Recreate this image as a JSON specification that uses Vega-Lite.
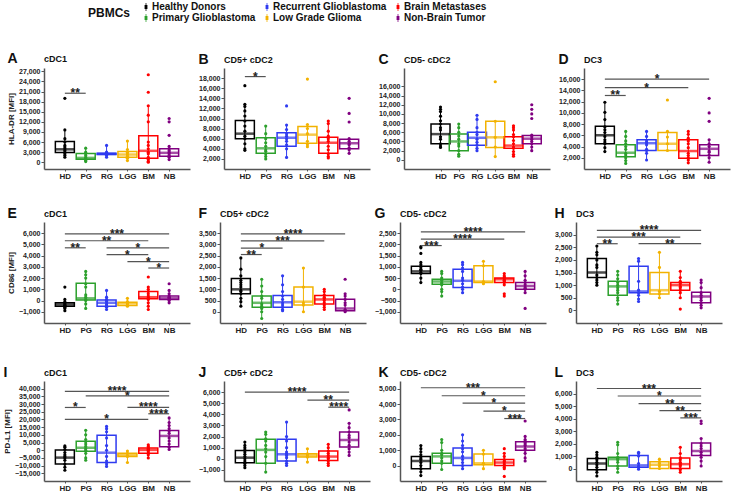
{
"$schema":"https://vega.github.io/schema/vega-lite/v6.json",
"padding":{"left":3,"right":3,"top":2,"bottom":0},
"data":{"values":[
{"p":"A","g":"HD","lo":1500,"q1":2900,"m":3850,"q3":6200,"hi":9600},
{"p":"A","g":"PG","lo":200,"q1":900,"m":1300,"q3":2600,"hi":4200},
{"p":"A","g":"RG","lo":1500,"q1":2300,"m":2500,"q3":2700,"hi":5000},
{"p":"A","g":"LGG","lo":500,"q1":1500,"m":2300,"q3":3200,"hi":6300},
{"p":"A","g":"BM","lo":0,"q1":1200,"m":3400,"q3":7900,"hi":16800},
{"p":"A","g":"NB","lo":800,"q1":1800,"m":2800,"q3":4000,"hi":4700},
{"p":"A","a":"HD","b":"PG","y":20500,"s":"**"},
{"p":"A","g":"HD","v":19000},{"p":"A","g":"HD","v":9600},{"p":"A","g":"HD","v":7000},{"p":"A","g":"HD","v":6000},{"p":"A","g":"HD","v":5000},{"p":"A","g":"HD","v":4500},{"p":"A","g":"HD","v":4000},{"p":"A","g":"HD","v":3500},{"p":"A","g":"HD","v":3000},{"p":"A","g":"HD","v":2500},{"p":"A","g":"HD","v":2000},{"p":"A","g":"HD","v":1500},
{"p":"A","g":"PG","v":4200},{"p":"A","g":"PG","v":3000},{"p":"A","g":"PG","v":2500},{"p":"A","g":"PG","v":2000},{"p":"A","g":"PG","v":1500},{"p":"A","g":"PG","v":1000},{"p":"A","g":"PG","v":800},{"p":"A","g":"PG","v":500},{"p":"A","g":"PG","v":200},
{"p":"A","g":"RG","v":5000},{"p":"A","g":"RG","v":3000},{"p":"A","g":"RG","v":2800},{"p":"A","g":"RG","v":2600},{"p":"A","g":"RG","v":2400},{"p":"A","g":"RG","v":2200},{"p":"A","g":"RG","v":2000},{"p":"A","g":"RG","v":1500},
{"p":"A","g":"LGG","v":6300},{"p":"A","g":"LGG","v":3800},{"p":"A","g":"LGG","v":3000},{"p":"A","g":"LGG","v":2500},{"p":"A","g":"LGG","v":2200},{"p":"A","g":"LGG","v":1800},{"p":"A","g":"LGG","v":1200},{"p":"A","g":"LGG","v":500},
{"p":"A","g":"BM","v":26000},{"p":"A","g":"BM","v":20800},{"p":"A","g":"BM","v":16800},{"p":"A","g":"BM","v":14000},{"p":"A","g":"BM","v":12000},{"p":"A","g":"BM","v":6000},{"p":"A","g":"BM","v":5000},{"p":"A","g":"BM","v":4000},{"p":"A","g":"BM","v":3000},{"p":"A","g":"BM","v":2500},{"p":"A","g":"BM","v":1500},{"p":"A","g":"BM","v":800},{"p":"A","g":"BM","v":300},{"p":"A","g":"BM","v":0},
{"p":"A","g":"NB","v":13000},{"p":"A","g":"NB","v":12000},{"p":"A","g":"NB","v":8000},{"p":"A","g":"NB","v":4700},{"p":"A","g":"NB","v":4000},{"p":"A","g":"NB","v":3500},{"p":"A","g":"NB","v":3000},{"p":"A","g":"NB","v":2500},{"p":"A","g":"NB","v":2000},{"p":"A","g":"NB","v":1500},{"p":"A","g":"NB","v":800},

{"p":"B","g":"HD","lo":3700,"q1":6000,"m":7000,"q3":9600,"hi":12800},
{"p":"B","g":"PG","lo":2000,"q1":3100,"m":4100,"q3":6200,"hi":8500},
{"p":"B","g":"RG","lo":2300,"q1":4500,"m":6200,"q3":7200,"hi":8700},
{"p":"B","g":"LGG","lo":4400,"q1":5100,"m":6800,"q3":8400,"hi":8800},
{"p":"B","g":"BM","lo":2200,"q1":3100,"m":5200,"q3":6300,"hi":9500},
{"p":"B","g":"NB","lo":3100,"q1":4000,"m":5100,"q3":5900,"hi":6000},
{"p":"B","a":"HD","b":"PG","y":18300,"s":"*"},
{"p":"B","g":"HD","v":16500},{"p":"B","g":"HD","v":12800},{"p":"B","g":"HD","v":12400},{"p":"B","g":"HD","v":11500},{"p":"B","g":"HD","v":10500},{"p":"B","g":"HD","v":9500},{"p":"B","g":"HD","v":8500},{"p":"B","g":"HD","v":7500},{"p":"B","g":"HD","v":6500},{"p":"B","g":"HD","v":6000},{"p":"B","g":"HD","v":5000},{"p":"B","g":"HD","v":4000},{"p":"B","g":"HD","v":3700},
{"p":"B","g":"PG","v":8500},{"p":"B","g":"PG","v":7000},{"p":"B","g":"PG","v":6000},{"p":"B","g":"PG","v":5200},{"p":"B","g":"PG","v":4500},{"p":"B","g":"PG","v":3800},{"p":"B","g":"PG","v":3500},{"p":"B","g":"PG","v":3000},{"p":"B","g":"PG","v":2500},{"p":"B","g":"PG","v":2000},
{"p":"B","g":"RG","v":12500},{"p":"B","g":"RG","v":8700},{"p":"B","g":"RG","v":7800},{"p":"B","g":"RG","v":7000},{"p":"B","g":"RG","v":6500},{"p":"B","g":"RG","v":6000},{"p":"B","g":"RG","v":5500},{"p":"B","g":"RG","v":4800},{"p":"B","g":"RG","v":4000},{"p":"B","g":"RG","v":2300},
{"p":"B","g":"LGG","v":17800},{"p":"B","g":"LGG","v":8800},{"p":"B","g":"LGG","v":8000},{"p":"B","g":"LGG","v":7000},{"p":"B","g":"LGG","v":5500},{"p":"B","g":"LGG","v":4800},{"p":"B","g":"LGG","v":4400},
{"p":"B","g":"BM","v":9500},{"p":"B","g":"BM","v":9000},{"p":"B","g":"BM","v":7500},{"p":"B","g":"BM","v":6500},{"p":"B","g":"BM","v":6000},{"p":"B","g":"BM","v":5500},{"p":"B","g":"BM","v":4500},{"p":"B","g":"BM","v":3800},{"p":"B","g":"BM","v":3000},{"p":"B","g":"BM","v":2500},{"p":"B","g":"BM","v":2200},
{"p":"B","g":"NB","v":14000},{"p":"B","g":"NB","v":11000},{"p":"B","g":"NB","v":9300},{"p":"B","g":"NB","v":6000},{"p":"B","g":"NB","v":5500},{"p":"B","g":"NB","v":5000},{"p":"B","g":"NB","v":4800},{"p":"B","g":"NB","v":4200},{"p":"B","g":"NB","v":3800},{"p":"B","g":"NB","v":3100},

{"p":"C","g":"HD","lo":2700,"q1":3500,"m":5600,"q3":7800,"hi":11500},
{"p":"C","g":"PG","lo":800,"q1":2000,"m":4000,"q3":5600,"hi":7800},
{"p":"C","g":"RG","lo":2000,"q1":3200,"m":4800,"q3":6000,"hi":9700},
{"p":"C","g":"LGG","lo":700,"q1":2700,"m":4900,"q3":8400,"hi":8400},
{"p":"C","g":"BM","lo":800,"q1":2500,"m":3100,"q3":5000,"hi":7400},
{"p":"C","g":"NB","lo":2000,"q1":3500,"m":4600,"q3":5300,"hi":5400},
{"p":"C","g":"HD","v":11500},{"p":"C","g":"HD","v":11000},{"p":"C","g":"HD","v":10500},{"p":"C","g":"HD","v":9500},{"p":"C","g":"HD","v":8500},{"p":"C","g":"HD","v":7800},{"p":"C","g":"HD","v":7000},{"p":"C","g":"HD","v":6500},{"p":"C","g":"HD","v":5000},{"p":"C","g":"HD","v":4500},{"p":"C","g":"HD","v":3500},{"p":"C","g":"HD","v":3000},{"p":"C","g":"HD","v":2700},
{"p":"C","g":"PG","v":7800},{"p":"C","g":"PG","v":7000},{"p":"C","g":"PG","v":6000},{"p":"C","g":"PG","v":5200},{"p":"C","g":"PG","v":4500},{"p":"C","g":"PG","v":3500},{"p":"C","g":"PG","v":3000},{"p":"C","g":"PG","v":2000},{"p":"C","g":"PG","v":1200},{"p":"C","g":"PG","v":800},
{"p":"C","g":"RG","v":9700},{"p":"C","g":"RG","v":8800},{"p":"C","g":"RG","v":7000},{"p":"C","g":"RG","v":6000},{"p":"C","g":"RG","v":5500},{"p":"C","g":"RG","v":4500},{"p":"C","g":"RG","v":3800},{"p":"C","g":"RG","v":3200},{"p":"C","g":"RG","v":2500},{"p":"C","g":"RG","v":2000},
{"p":"C","g":"LGG","v":17000},{"p":"C","g":"LGG","v":8400},{"p":"C","g":"LGG","v":4900},{"p":"C","g":"LGG","v":2800},{"p":"C","g":"LGG","v":700},
{"p":"C","g":"BM","v":7400},{"p":"C","g":"BM","v":7000},{"p":"C","g":"BM","v":6500},{"p":"C","g":"BM","v":5500},{"p":"C","g":"BM","v":5000},{"p":"C","g":"BM","v":4200},{"p":"C","g":"BM","v":3500},{"p":"C","g":"BM","v":2800},{"p":"C","g":"BM","v":2500},{"p":"C","g":"BM","v":1800},{"p":"C","g":"BM","v":1200},{"p":"C","g":"BM","v":800},
{"p":"C","g":"NB","v":12000},{"p":"C","g":"NB","v":11000},{"p":"C","g":"NB","v":10000},{"p":"C","g":"NB","v":9000},{"p":"C","g":"NB","v":5400},{"p":"C","g":"NB","v":5000},{"p":"C","g":"NB","v":4500},{"p":"C","g":"NB","v":4000},{"p":"C","g":"NB","v":3500},{"p":"C","g":"NB","v":2800},{"p":"C","g":"NB","v":2000},

{"p":"D","g":"HD","lo":3100,"q1":4500,"m":6000,"q3":7600,"hi":11900},
{"p":"D","g":"PG","lo":1000,"q1":2200,"m":2900,"q3":4300,"hi":6700},
{"p":"D","g":"RG","lo":1600,"q1":3300,"m":4600,"q3":5200,"hi":6700},
{"p":"D","g":"LGG","lo":3300,"q1":3300,"m":4500,"q3":6500,"hi":6700},
{"p":"D","g":"BM","lo":1100,"q1":1900,"m":3200,"q3":5200,"hi":6700},
{"p":"D","g":"NB","lo":1200,"q1":2400,"m":3600,"q3":4300,"hi":5200},
{"p":"D","a":"HD","b":"NB","y":16000,"s":"*"},
{"p":"D","a":"HD","b":"BM","y":14500,"s":"*"},
{"p":"D","a":"HD","b":"PG","y":13100,"s":"**"},
{"p":"D","g":"HD","v":11900},{"p":"D","g":"HD","v":10100},{"p":"D","g":"HD","v":8800},{"p":"D","g":"HD","v":7500},{"p":"D","g":"HD","v":7000},{"p":"D","g":"HD","v":6500},{"p":"D","g":"HD","v":5800},{"p":"D","g":"HD","v":5200},{"p":"D","g":"HD","v":4800},{"p":"D","g":"HD","v":4500},{"p":"D","g":"HD","v":3800},{"p":"D","g":"HD","v":3100},
{"p":"D","g":"PG","v":6700},{"p":"D","g":"PG","v":5800},{"p":"D","g":"PG","v":5000},{"p":"D","g":"PG","v":4500},{"p":"D","g":"PG","v":4000},{"p":"D","g":"PG","v":3500},{"p":"D","g":"PG","v":2800},{"p":"D","g":"PG","v":2500},{"p":"D","g":"PG","v":2000},{"p":"D","g":"PG","v":1500},{"p":"D","g":"PG","v":1000},
{"p":"D","g":"RG","v":6700},{"p":"D","g":"RG","v":5800},{"p":"D","g":"RG","v":5000},{"p":"D","g":"RG","v":4700},{"p":"D","g":"RG","v":4300},{"p":"D","g":"RG","v":3500},{"p":"D","g":"RG","v":3300},{"p":"D","g":"RG","v":2800},{"p":"D","g":"RG","v":1600},
{"p":"D","g":"LGG","v":12300},{"p":"D","g":"LGG","v":6700},{"p":"D","g":"LGG","v":5700},{"p":"D","g":"LGG","v":4500},{"p":"D","g":"LGG","v":3300},
{"p":"D","g":"BM","v":6700},{"p":"D","g":"BM","v":6200},{"p":"D","g":"BM","v":5500},{"p":"D","g":"BM","v":5000},{"p":"D","g":"BM","v":4500},{"p":"D","g":"BM","v":3800},{"p":"D","g":"BM","v":2800},{"p":"D","g":"BM","v":2400},{"p":"D","g":"BM","v":2000},{"p":"D","g":"BM","v":1600},{"p":"D","g":"BM","v":1100},
{"p":"D","g":"NB","v":12600},{"p":"D","g":"NB","v":10000},{"p":"D","g":"NB","v":8500},{"p":"D","g":"NB","v":5200},{"p":"D","g":"NB","v":4500},{"p":"D","g":"NB","v":4000},{"p":"D","g":"NB","v":3200},{"p":"D","g":"NB","v":3000},{"p":"D","g":"NB","v":2500},{"p":"D","g":"NB","v":2000},{"p":"D","g":"NB","v":1200},

{"p":"E","g":"HD","lo":-900,"q1":-500,"m":-350,"q3":-200,"hi":100},
{"p":"E","g":"PG","lo":-700,"q1":50,"m":200,"q3":1550,"hi":2600},
{"p":"E","g":"RG","lo":-800,"q1":-500,"m":-200,"q3":50,"hi":900},
{"p":"E","g":"LGG","lo":-500,"q1":-450,"m":-250,"q3":-150,"hi":200},
{"p":"E","g":"BM","lo":-800,"q1":150,"m":300,"q3":800,"hi":1200},
{"p":"E","g":"NB","lo":-200,"q1":100,"m":200,"q3":400,"hi":900},
{"p":"E","a":"HD","b":"NB","y":5950,"s":"***"},
{"p":"E","a":"HD","b":"BM","y":5330,"s":"**"},
{"p":"E","a":"HD","b":"PG","y":4700,"s":"**"},
{"p":"E","a":"RG","b":"NB","y":4700,"s":"*"},
{"p":"E","a":"RG","b":"BM","y":4090,"s":"*"},
{"p":"E","a":"LGG","b":"NB","y":3470,"s":"*"},
{"p":"E","a":"BM","b":"NB","y":2900,"s":"*"},
{"p":"E","g":"HD","v":1200},{"p":"E","g":"HD","v":100},{"p":"E","g":"HD","v":-100},{"p":"E","g":"HD","v":-200},{"p":"E","g":"HD","v":-300},{"p":"E","g":"HD","v":-400},{"p":"E","g":"HD","v":-450},{"p":"E","g":"HD","v":-500},{"p":"E","g":"HD","v":-600},{"p":"E","g":"HD","v":-700},{"p":"E","g":"HD","v":-900},
{"p":"E","g":"PG","v":2600},{"p":"E","g":"PG","v":2300},{"p":"E","g":"PG","v":2000},{"p":"E","g":"PG","v":1500},{"p":"E","g":"PG","v":1200},{"p":"E","g":"PG","v":500},{"p":"E","g":"PG","v":300},{"p":"E","g":"PG","v":100},{"p":"E","g":"PG","v":0},{"p":"E","g":"PG","v":-300},{"p":"E","g":"PG","v":-700},
{"p":"E","g":"RG","v":900},{"p":"E","g":"RG","v":300},{"p":"E","g":"RG","v":100},{"p":"E","g":"RG","v":0},{"p":"E","g":"RG","v":-100},{"p":"E","g":"RG","v":-300},{"p":"E","g":"RG","v":-400},{"p":"E","g":"RG","v":-500},{"p":"E","g":"RG","v":-600},{"p":"E","g":"RG","v":-800},
{"p":"E","g":"LGG","v":200},{"p":"E","g":"LGG","v":-100},{"p":"E","g":"LGG","v":-200},{"p":"E","g":"LGG","v":-300},{"p":"E","g":"LGG","v":-400},{"p":"E","g":"LGG","v":-500},
{"p":"E","g":"BM","v":2100},{"p":"E","g":"BM","v":1200},{"p":"E","g":"BM","v":1000},{"p":"E","g":"BM","v":800},{"p":"E","g":"BM","v":600},{"p":"E","g":"BM","v":400},{"p":"E","g":"BM","v":250},{"p":"E","g":"BM","v":200},{"p":"E","g":"BM","v":100},{"p":"E","g":"BM","v":-200},{"p":"E","g":"BM","v":-500},{"p":"E","g":"BM","v":-800},
{"p":"E","g":"NB","v":1500},{"p":"E","g":"NB","v":900},{"p":"E","g":"NB","v":600},{"p":"E","g":"NB","v":400},{"p":"E","g":"NB","v":300},{"p":"E","g":"NB","v":250},{"p":"E","g":"NB","v":150},{"p":"E","g":"NB","v":100},{"p":"E","g":"NB","v":0},{"p":"E","g":"NB","v":-200},

{"p":"F","g":"HD","lo":250,"q1":800,"m":1000,"q3":1480,"hi":2400},
{"p":"F","g":"PG","lo":-300,"q1":200,"m":400,"q3":700,"hi":1450},
{"p":"F","g":"RG","lo":50,"q1":200,"m":420,"q3":720,"hi":1600},
{"p":"F","g":"LGG","lo":0,"q1":300,"m":450,"q3":1100,"hi":1950},
{"p":"F","g":"BM","lo":100,"q1":350,"m":550,"q3":720,"hi":1000},
{"p":"F","g":"NB","lo":0,"q1":50,"m":150,"q3":560,"hi":800},
{"p":"F","a":"HD","b":"NB","y":3470,"s":"****"},
{"p":"F","a":"HD","b":"BM","y":3160,"s":"***"},
{"p":"F","a":"HD","b":"RG","y":2840,"s":"*"},
{"p":"F","a":"HD","b":"PG","y":2550,"s":"**"},
{"p":"F","g":"HD","v":2400},{"p":"F","g":"HD","v":1900},{"p":"F","g":"HD","v":1600},{"p":"F","g":"HD","v":1400},{"p":"F","g":"HD","v":1300},{"p":"F","g":"HD","v":1200},{"p":"F","g":"HD","v":1100},{"p":"F","g":"HD","v":950},{"p":"F","g":"HD","v":900},{"p":"F","g":"HD","v":800},{"p":"F","g":"HD","v":600},{"p":"F","g":"HD","v":450},{"p":"F","g":"HD","v":250},
{"p":"F","g":"PG","v":1450},{"p":"F","g":"PG","v":1150},{"p":"F","g":"PG","v":900},{"p":"F","g":"PG","v":700},{"p":"F","g":"PG","v":600},{"p":"F","g":"PG","v":350},{"p":"F","g":"PG","v":250},{"p":"F","g":"PG","v":150},{"p":"F","g":"PG","v":0},{"p":"F","g":"PG","v":-300},
{"p":"F","g":"RG","v":1600},{"p":"F","g":"RG","v":1200},{"p":"F","g":"RG","v":900},{"p":"F","g":"RG","v":700},{"p":"F","g":"RG","v":550},{"p":"F","g":"RG","v":400},{"p":"F","g":"RG","v":300},{"p":"F","g":"RG","v":200},{"p":"F","g":"RG","v":100},{"p":"F","g":"RG","v":50},
{"p":"F","g":"LGG","v":1950},{"p":"F","g":"LGG","v":1100},{"p":"F","g":"LGG","v":400},{"p":"F","g":"LGG","v":300},{"p":"F","g":"LGG","v":0},
{"p":"F","g":"BM","v":1000},{"p":"F","g":"BM","v":900},{"p":"F","g":"BM","v":750},{"p":"F","g":"BM","v":650},{"p":"F","g":"BM","v":600},{"p":"F","g":"BM","v":500},{"p":"F","g":"BM","v":400},{"p":"F","g":"BM","v":300},{"p":"F","g":"BM","v":200},{"p":"F","g":"BM","v":100},
{"p":"F","g":"NB","v":1450},{"p":"F","g":"NB","v":800},{"p":"F","g":"NB","v":700},{"p":"F","g":"NB","v":550},{"p":"F","g":"NB","v":400},{"p":"F","g":"NB","v":300},{"p":"F","g":"NB","v":100},{"p":"F","g":"NB","v":50},{"p":"F","g":"NB","v":0},

{"p":"G","g":"HD","lo":300,"q1":700,"m":800,"q3":1030,"hi":1200},
{"p":"G","g":"PG","lo":-300,"q1":230,"m":350,"q3":450,"hi":800},
{"p":"G","g":"RG","lo":-150,"q1":80,"m":380,"q3":900,"hi":1200},
{"p":"G","g":"LGG","lo":250,"q1":300,"m":350,"q3":1050,"hi":1250},
{"p":"G","g":"BM","lo":200,"q1":300,"m":450,"q3":500,"hi":700},
{"p":"G","g":"NB","lo":-150,"q1":0,"m":150,"q3":300,"hi":800},
{"p":"G","a":"HD","b":"NB","y":2560,"s":"****"},
{"p":"G","a":"HD","b":"BM","y":2240,"s":"****"},
{"p":"G","a":"HD","b":"PG","y":1950,"s":"***"},
{"p":"G","g":"HD","v":1900},{"p":"G","g":"HD","v":1850},{"p":"G","g":"HD","v":1600},{"p":"G","g":"HD","v":1200},{"p":"G","g":"HD","v":1100},{"p":"G","g":"HD","v":1000},{"p":"G","g":"HD","v":900},{"p":"G","g":"HD","v":850},{"p":"G","g":"HD","v":750},{"p":"G","g":"HD","v":700},{"p":"G","g":"HD","v":500},{"p":"G","g":"HD","v":300},
{"p":"G","g":"PG","v":800},{"p":"G","g":"PG","v":700},{"p":"G","g":"PG","v":500},{"p":"G","g":"PG","v":450},{"p":"G","g":"PG","v":400},{"p":"G","g":"PG","v":300},{"p":"G","g":"PG","v":250},{"p":"G","g":"PG","v":200},{"p":"G","g":"PG","v":0},{"p":"G","g":"PG","v":-100},{"p":"G","g":"PG","v":-300},
{"p":"G","g":"RG","v":1200},{"p":"G","g":"RG","v":1100},{"p":"G","g":"RG","v":950},{"p":"G","g":"RG","v":800},{"p":"G","g":"RG","v":500},{"p":"G","g":"RG","v":400},{"p":"G","g":"RG","v":250},{"p":"G","g":"RG","v":100},{"p":"G","g":"RG","v":0},{"p":"G","g":"RG","v":-150},
{"p":"G","g":"LGG","v":1250},{"p":"G","g":"LGG","v":1050},{"p":"G","g":"LGG","v":350},{"p":"G","g":"LGG","v":300},{"p":"G","g":"LGG","v":250},
{"p":"G","g":"BM","v":700},{"p":"G","g":"BM","v":600},{"p":"G","g":"BM","v":550},{"p":"G","g":"BM","v":500},{"p":"G","g":"BM","v":420},{"p":"G","g":"BM","v":400},{"p":"G","g":"BM","v":350},{"p":"G","g":"BM","v":300},{"p":"G","g":"BM","v":200},{"p":"G","g":"BM","v":-200},{"p":"G","g":"BM","v":-300},
{"p":"G","g":"NB","v":800},{"p":"G","g":"NB","v":600},{"p":"G","g":"NB","v":400},{"p":"G","g":"NB","v":300},{"p":"G","g":"NB","v":200},{"p":"G","g":"NB","v":100},{"p":"G","g":"NB","v":50},{"p":"G","g":"NB","v":0},{"p":"G","g":"NB","v":-150},{"p":"G","g":"NB","v":-850},

{"p":"H","g":"HD","lo":1000,"q1":1300,"m":1500,"q3":2050,"hi":2550},
{"p":"H","g":"PG","lo":250,"q1":600,"m":950,"q3":1150,"hi":1550},
{"p":"H","g":"RG","lo":350,"q1":700,"m":750,"q3":1750,"hi":2050},
{"p":"H","g":"LGG","lo":500,"q1":650,"m":800,"q3":1500,"hi":2300},
{"p":"H","g":"BM","lo":500,"q1":800,"m":1000,"q3":1100,"hi":1550},
{"p":"H","g":"NB","lo":100,"q1":300,"m":550,"q3":720,"hi":1200},
{"p":"H","a":"HD","b":"NB","y":3170,"s":"****"},
{"p":"H","a":"HD","b":"BM","y":2900,"s":"***"},
{"p":"H","a":"HD","b":"PG","y":2640,"s":"**"},
{"p":"H","a":"RG","b":"NB","y":2640,"s":"**"},
{"p":"H","g":"HD","v":2550},{"p":"H","g":"HD","v":2300},{"p":"H","g":"HD","v":2200},{"p":"H","g":"HD","v":2000},{"p":"H","g":"HD","v":1800},{"p":"H","g":"HD","v":1700},{"p":"H","g":"HD","v":1400},{"p":"H","g":"HD","v":1300},{"p":"H","g":"HD","v":1200},{"p":"H","g":"HD","v":1100},{"p":"H","g":"HD","v":1000},
{"p":"H","g":"PG","v":1550},{"p":"H","g":"PG","v":1400},{"p":"H","g":"PG","v":1250},{"p":"H","g":"PG","v":1100},{"p":"H","g":"PG","v":1000},{"p":"H","g":"PG","v":900},{"p":"H","g":"PG","v":800},{"p":"H","g":"PG","v":700},{"p":"H","g":"PG","v":500},{"p":"H","g":"PG","v":400},{"p":"H","g":"PG","v":250},
{"p":"H","g":"RG","v":2050},{"p":"H","g":"RG","v":1950},{"p":"H","g":"RG","v":1150},{"p":"H","g":"RG","v":800},{"p":"H","g":"RG","v":700},{"p":"H","g":"RG","v":600},{"p":"H","g":"RG","v":450},{"p":"H","g":"RG","v":350},
{"p":"H","g":"LGG","v":2300},{"p":"H","g":"LGG","v":1700},{"p":"H","g":"LGG","v":750},{"p":"H","g":"LGG","v":650},{"p":"H","g":"LGG","v":500},
{"p":"H","g":"BM","v":1550},{"p":"H","g":"BM","v":1300},{"p":"H","g":"BM","v":1150},{"p":"H","g":"BM","v":1100},{"p":"H","g":"BM","v":1050},{"p":"H","g":"BM","v":950},{"p":"H","g":"BM","v":900},{"p":"H","g":"BM","v":800},{"p":"H","g":"BM","v":700},{"p":"H","g":"BM","v":500},{"p":"H","g":"BM","v":50},
{"p":"H","g":"NB","v":1200},{"p":"H","g":"NB","v":1100},{"p":"H","g":"NB","v":900},{"p":"H","g":"NB","v":700},{"p":"H","g":"NB","v":600},{"p":"H","g":"NB","v":500},{"p":"H","g":"NB","v":400},{"p":"H","g":"NB","v":300},{"p":"H","g":"NB","v":200},{"p":"H","g":"NB","v":100},

{"p":"I","g":"HD","lo":-13000,"q1":-9000,"m":-4800,"q3":200,"hi":2800},
{"p":"I","g":"PG","lo":-6500,"q1":-600,"m":1600,"q3":5900,"hi":13000},
{"p":"I","g":"RG","lo":-10500,"q1":-8000,"m":-1600,"q3":9800,"hi":15500},
{"p":"I","g":"LGG","lo":-8000,"q1":-4000,"m":-3000,"q3":-2000,"hi":-500},
{"p":"I","g":"BM","lo":-5000,"q1":-2000,"m":200,"q3":1500,"hi":3500},
{"p":"I","g":"NB","lo":500,"q1":2200,"m":9300,"q3":12800,"hi":21000},
{"p":"I","a":"HD","b":"NB","y":38300,"s":"****"},
{"p":"I","a":"PG","b":"NB","y":35300,"s":"*"},
{"p":"I","a":"HD","b":"PG","y":27800,"s":"*"},
{"p":"I","a":"LGG","b":"NB","y":27800,"s":"****"},
{"p":"I","a":"BM","b":"NB","y":23700,"s":"****"},
{"p":"I","a":"HD","b":"BM","y":20000,"s":"*"},
{"p":"I","g":"HD","v":2800},{"p":"I","g":"HD","v":2000},{"p":"I","g":"HD","v":500},{"p":"I","g":"HD","v":-1500},{"p":"I","g":"HD","v":-3000},{"p":"I","g":"HD","v":-4000},{"p":"I","g":"HD","v":-5000},{"p":"I","g":"HD","v":-6500},{"p":"I","g":"HD","v":-9000},{"p":"I","g":"HD","v":-11000},{"p":"I","g":"HD","v":-13000},
{"p":"I","g":"PG","v":13000},{"p":"I","g":"PG","v":10000},{"p":"I","g":"PG","v":7000},{"p":"I","g":"PG","v":5500},{"p":"I","g":"PG","v":4000},{"p":"I","g":"PG","v":2500},{"p":"I","g":"PG","v":1000},{"p":"I","g":"PG","v":0},{"p":"I","g":"PG","v":-2000},{"p":"I","g":"PG","v":-5000},{"p":"I","g":"PG","v":-6500},
{"p":"I","g":"RG","v":15500},{"p":"I","g":"RG","v":14000},{"p":"I","g":"RG","v":12000},{"p":"I","g":"RG","v":8000},{"p":"I","g":"RG","v":3000},{"p":"I","g":"RG","v":0},{"p":"I","g":"RG","v":-4000},{"p":"I","g":"RG","v":-7000},{"p":"I","g":"RG","v":-9000},{"p":"I","g":"RG","v":-10500},
{"p":"I","g":"LGG","v":-500},{"p":"I","g":"LGG","v":-2000},{"p":"I","g":"LGG","v":-3500},{"p":"I","g":"LGG","v":-4000},{"p":"I","g":"LGG","v":-8000},
{"p":"I","g":"BM","v":3500},{"p":"I","g":"BM","v":2500},{"p":"I","g":"BM","v":1500},{"p":"I","g":"BM","v":1000},{"p":"I","g":"BM","v":500},{"p":"I","g":"BM","v":0},{"p":"I","g":"BM","v":-1000},{"p":"I","g":"BM","v":-2000},{"p":"I","g":"BM","v":-3000},{"p":"I","g":"BM","v":-5000},
{"p":"I","g":"NB","v":21000},{"p":"I","g":"NB","v":18000},{"p":"I","g":"NB","v":16000},{"p":"I","g":"NB","v":14000},{"p":"I","g":"NB","v":12500},{"p":"I","g":"NB","v":11000},{"p":"I","g":"NB","v":8000},{"p":"I","g":"NB","v":6000},{"p":"I","g":"NB","v":4000},{"p":"I","g":"NB","v":2000},{"p":"I","g":"NB","v":500},

{"p":"J","g":"HD","lo":-800,"q1":-360,"m":100,"q3":740,"hi":1500},
{"p":"J","g":"PG","lo":-1200,"q1":-400,"m":800,"q3":1750,"hi":2400},
{"p":"J","g":"RG","lo":-600,"q1":-200,"m":400,"q3":1750,"hi":3300},
{"p":"J","g":"LGG","lo":-300,"q1":150,"m":300,"q3":450,"hi":900},
{"p":"J","g":"BM","lo":-600,"q1":-150,"m":200,"q3":700,"hi":1300},
{"p":"J","g":"NB","lo":300,"q1":1050,"m":1700,"q3":2400,"hi":3200},
{"p":"J","a":"HD","b":"NB","y":6000,"s":"****"},
{"p":"J","a":"LGG","b":"NB","y":5280,"s":"**"},
{"p":"J","a":"BM","b":"NB","y":4640,"s":"****"},
{"p":"J","g":"HD","v":1500},{"p":"J","g":"HD","v":1200},{"p":"J","g":"HD","v":1000},{"p":"J","g":"HD","v":800},{"p":"J","g":"HD","v":600},{"p":"J","g":"HD","v":400},{"p":"J","g":"HD","v":200},{"p":"J","g":"HD","v":0},{"p":"J","g":"HD","v":-200},{"p":"J","g":"HD","v":-400},{"p":"J","g":"HD","v":-600},{"p":"J","g":"HD","v":-800},
{"p":"J","g":"PG","v":2400},{"p":"J","g":"PG","v":2200},{"p":"J","g":"PG","v":1800},{"p":"J","g":"PG","v":1600},{"p":"J","g":"PG","v":1200},{"p":"J","g":"PG","v":900},{"p":"J","g":"PG","v":600},{"p":"J","g":"PG","v":200},{"p":"J","g":"PG","v":-400},{"p":"J","g":"PG","v":-1200},
{"p":"J","g":"RG","v":3300},{"p":"J","g":"RG","v":2000},{"p":"J","g":"RG","v":1600},{"p":"J","g":"RG","v":1000},{"p":"J","g":"RG","v":600},{"p":"J","g":"RG","v":450},{"p":"J","g":"RG","v":300},{"p":"J","g":"RG","v":100},{"p":"J","g":"RG","v":-200},{"p":"J","g":"RG","v":-400},{"p":"J","g":"RG","v":-600},
{"p":"J","g":"LGG","v":900},{"p":"J","g":"LGG","v":450},{"p":"J","g":"LGG","v":350},{"p":"J","g":"LGG","v":200},{"p":"J","g":"LGG","v":150},{"p":"J","g":"LGG","v":-300},
{"p":"J","g":"BM","v":1300},{"p":"J","g":"BM","v":1000},{"p":"J","g":"BM","v":700},{"p":"J","g":"BM","v":500},{"p":"J","g":"BM","v":300},{"p":"J","g":"BM","v":100},{"p":"J","g":"BM","v":0},{"p":"J","g":"BM","v":-200},{"p":"J","g":"BM","v":-400},{"p":"J","g":"BM","v":-600},
{"p":"J","g":"NB","v":4400},{"p":"J","g":"NB","v":3200},{"p":"J","g":"NB","v":2800},{"p":"J","g":"NB","v":2400},{"p":"J","g":"NB","v":2100},{"p":"J","g":"NB","v":1900},{"p":"J","g":"NB","v":1500},{"p":"J","g":"NB","v":1200},{"p":"J","g":"NB","v":900},{"p":"J","g":"NB","v":600},{"p":"J","g":"NB","v":300},

{"p":"K","g":"HD","lo":-650,"q1":-200,"m":300,"q3":600,"hi":1300},
{"p":"K","g":"PG","lo":-250,"q1":150,"m":600,"q3":800,"hi":1700},
{"p":"K","g":"RG","lo":-200,"q1":0,"m":500,"q3":1150,"hi":2000},
{"p":"K","g":"LGG","lo":-200,"q1":50,"m":150,"q3":750,"hi":1000},
{"p":"K","g":"BM","lo":-200,"q1":0,"m":200,"q3":400,"hi":800},
{"p":"K","g":"NB","lo":300,"q1":1000,"m":1250,"q3":1550,"hi":1900},
{"p":"K","a":"HD","b":"NB","y":5060,"s":"***"},
{"p":"K","a":"PG","b":"NB","y":4540,"s":"*"},
{"p":"K","a":"RG","b":"NB","y":4060,"s":"*"},
{"p":"K","a":"LGG","b":"NB","y":3540,"s":"*"},
{"p":"K","a":"BM","b":"NB","y":3060,"s":"***"},
{"p":"K","g":"HD","v":1300},{"p":"K","g":"HD","v":1100},{"p":"K","g":"HD","v":900},{"p":"K","g":"HD","v":700},{"p":"K","g":"HD","v":500},{"p":"K","g":"HD","v":400},{"p":"K","g":"HD","v":200},{"p":"K","g":"HD","v":0},{"p":"K","g":"HD","v":-200},{"p":"K","g":"HD","v":-400},{"p":"K","g":"HD","v":-650},
{"p":"K","g":"PG","v":1700},{"p":"K","g":"PG","v":1500},{"p":"K","g":"PG","v":1000},{"p":"K","g":"PG","v":800},{"p":"K","g":"PG","v":700},{"p":"K","g":"PG","v":500},{"p":"K","g":"PG","v":300},{"p":"K","g":"PG","v":150},{"p":"K","g":"PG","v":-250},
{"p":"K","g":"RG","v":2000},{"p":"K","g":"RG","v":1600},{"p":"K","g":"RG","v":1300},{"p":"K","g":"RG","v":1100},{"p":"K","g":"RG","v":900},{"p":"K","g":"RG","v":600},{"p":"K","g":"RG","v":400},{"p":"K","g":"RG","v":200},{"p":"K","g":"RG","v":0},{"p":"K","g":"RG","v":-200},
{"p":"K","g":"LGG","v":1000},{"p":"K","g":"LGG","v":750},{"p":"K","g":"LGG","v":150},{"p":"K","g":"LGG","v":100},{"p":"K","g":"LGG","v":-200},
{"p":"K","g":"BM","v":1100},{"p":"K","g":"BM","v":800},{"p":"K","g":"BM","v":600},{"p":"K","g":"BM","v":400},{"p":"K","g":"BM","v":300},{"p":"K","g":"BM","v":250},{"p":"K","g":"BM","v":100},{"p":"K","g":"BM","v":0},{"p":"K","g":"BM","v":-100},{"p":"K","g":"BM","v":-200},{"p":"K","g":"BM","v":-700},
{"p":"K","g":"NB","v":2900},{"p":"K","g":"NB","v":1900},{"p":"K","g":"NB","v":1700},{"p":"K","g":"NB","v":1600},{"p":"K","g":"NB","v":1500},{"p":"K","g":"NB","v":1400},{"p":"K","g":"NB","v":1300},{"p":"K","g":"NB","v":1100},{"p":"K","g":"NB","v":1000},{"p":"K","g":"NB","v":800},{"p":"K","g":"NB","v":500},{"p":"K","g":"NB","v":300},

{"p":"L","g":"HD","lo":-600,"q1":-100,"m":400,"q3":800,"hi":1300},
{"p":"L","g":"PG","lo":-300,"q1":200,"m":750,"q3":900,"hi":2100},
{"p":"L","g":"RG","lo":-50,"q1":100,"m":250,"q3":1050,"hi":1300},
{"p":"L","g":"LGG","lo":-50,"q1":0,"m":300,"q3":550,"hi":750},
{"p":"L","g":"BM","lo":-300,"q1":0,"m":350,"q3":850,"hi":1700},
{"p":"L","g":"NB","lo":200,"q1":1050,"m":1400,"q3":2050,"hi":2400},
{"p":"L","a":"HD","b":"NB","y":6400,"s":"***"},
{"p":"L","a":"PG","b":"NB","y":5800,"s":"*"},
{"p":"L","a":"RG","b":"NB","y":5190,"s":"**"},
{"p":"L","a":"LGG","b":"NB","y":4630,"s":"**"},
{"p":"L","a":"BM","b":"NB","y":4050,"s":"***"},
{"p":"L","g":"HD","v":1300},{"p":"L","g":"HD","v":1100},{"p":"L","g":"HD","v":900},{"p":"L","g":"HD","v":700},{"p":"L","g":"HD","v":500},{"p":"L","g":"HD","v":300},{"p":"L","g":"HD","v":100},{"p":"L","g":"HD","v":-100},{"p":"L","g":"HD","v":-300},{"p":"L","g":"HD","v":-600},
{"p":"L","g":"PG","v":2100},{"p":"L","g":"PG","v":1900},{"p":"L","g":"PG","v":1200},{"p":"L","g":"PG","v":900},{"p":"L","g":"PG","v":800},{"p":"L","g":"PG","v":700},{"p":"L","g":"PG","v":500},{"p":"L","g":"PG","v":200},{"p":"L","g":"PG","v":0},{"p":"L","g":"PG","v":-300},
{"p":"L","g":"RG","v":1300},{"p":"L","g":"RG","v":1200},{"p":"L","g":"RG","v":1000},{"p":"L","g":"RG","v":400},{"p":"L","g":"RG","v":200},{"p":"L","g":"RG","v":100},{"p":"L","g":"RG","v":-50},
{"p":"L","g":"LGG","v":750},{"p":"L","g":"LGG","v":550},{"p":"L","g":"LGG","v":400},{"p":"L","g":"LGG","v":200},{"p":"L","g":"LGG","v":0},
{"p":"L","g":"BM","v":1700},{"p":"L","g":"BM","v":1200},{"p":"L","g":"BM","v":850},{"p":"L","g":"BM","v":700},{"p":"L","g":"BM","v":500},{"p":"L","g":"BM","v":400},{"p":"L","g":"BM","v":300},{"p":"L","g":"BM","v":200},{"p":"L","g":"BM","v":0},{"p":"L","g":"BM","v":-100},{"p":"L","g":"BM","v":-300},
{"p":"L","g":"NB","v":3800},{"p":"L","g":"NB","v":3600},{"p":"L","g":"NB","v":2400},{"p":"L","g":"NB","v":2000},{"p":"L","g":"NB","v":1800},{"p":"L","g":"NB","v":1600},{"p":"L","g":"NB","v":1300},{"p":"L","g":"NB","v":1100},{"p":"L","g":"NB","v":900},{"p":"L","g":"NB","v":600},{"p":"L","g":"NB","v":200}
]},
"transform":[
{"calculate":"indexof(['HD','PG','RG','LGG','BM','NB'],datum.g)","as":"i"},
{"calculate":"indexof(['HD','PG','RG','LGG','BM','NB'],datum.a)","as":"ia"},
{"calculate":"indexof(['HD','PG','RG','LGG','BM','NB'],datum.b)","as":"ib"},
{"calculate":"(datum.ia+datum.ib)/2","as":"im"}
],
"spacing":27,
"vconcat":[
{"hconcat":[
{"title":{"text":"A","fontSize":14,"offset":-11,"frame":"bounds"},"vconcat":[{"width":146,"height":101,"title":"cDC1","layer":[
{"transform":[{"filter":"datum.p=='A'&&datum.m!=null"}],"mark":{"type":"rule","strokeWidth":1},"encoding":{"x":{"field":"i","type":"quantitative","scale":{"domain":[-0.5,5.5]},"axis":{"values":[0,1,2,3,4,5],"tickCount":10,"labelExpr":"['HD','PG','RG','LGG','BM','NB'][datum.value]","title":null,"labelOverlap":false}},"y":{"field":"lo","type":"quantitative","scale":{"domain":[-500,27500]},"axis":{"values":[0,3000,6000,9000,12000,15000,18000,21000,24000,27000],"tickCount":20,"title":"HLA-DR [MFI]","format":",.0f","labelOverlap":false}},"y2":{"field":"hi"},"color":{"field":"g","type":"nominal"}}},
{"transform":[{"filter":"datum.p=='A'&&datum.m!=null"}],"mark":{"type":"bar","size":19,"filled":false,"strokeWidth":1.5},"encoding":{"x":{"field":"i","type":"quantitative"},"y":{"field":"q1","type":"quantitative"},"y2":{"field":"q3"},"color":{"field":"g","type":"nominal"}}},
{"transform":[{"filter":"datum.p=='A'&&datum.m!=null"}],"mark":{"type":"tick","orient":"horizontal","size":19,"thickness":2.5},"encoding":{"x":{"field":"i","type":"quantitative"},"y":{"field":"m","type":"quantitative"},"color":{"field":"g","type":"nominal"}}},
{"transform":[{"filter":"datum.p=='A'&&datum.v!=null"}],"mark":{"type":"circle","size":10,"opacity":1},"encoding":{"x":{"field":"i","type":"quantitative"},"y":{"field":"v","type":"quantitative"},"color":{"field":"g","type":"nominal","legend":{"values":["HD","PG","RG","LGG","BM","NB"],"labelExpr":"{'HD':'Healthy Donors','PG':'Primary Glioblastoma','RG':'Recurrent Glioblastoma','LGG':'Low Grade Glioma','BM':'Brain Metastases','NB':'Non-Brain Tumor'}[datum.label]","title":"PBMCs","orient":"none","legendX":44,"legendY":-66}}}},
{"transform":[{"filter":"datum.p=='A'&&datum.s!=null"}],"mark":{"type":"rule","color":"#555","strokeWidth":1.2},"encoding":{"x":{"field":"ia","type":"quantitative"},"x2":{"field":"ib"},"y":{"field":"y","type":"quantitative"}}},
{"transform":[{"filter":"datum.p=='A'&&datum.s!=null"}],"mark":{"type":"text","fontSize":12,"fontWeight":"bold","baseline":"alphabetic","dy":4,"color":"#222"},"encoding":{"x":{"field":"im","type":"quantitative"},"y":{"field":"y","type":"quantitative"},"text":{"field":"s"}}}
]}]},
{"title":{"text":"B","fontSize":14,"offset":-11,"frame":"bounds"},"vconcat":[{"width":146,"height":101,"title":"CD5+ cDC2","layer":[
{"transform":[{"filter":"datum.p=='B'&&datum.m!=null"}],"mark":{"type":"rule","strokeWidth":1},"encoding":{"x":{"field":"i","type":"quantitative","scale":{"domain":[-0.5,5.5]},"axis":{"values":[0,1,2,3,4,5],"tickCount":10,"labelExpr":"['HD','PG','RG','LGG','BM','NB'][datum.value]","title":null,"labelOverlap":false}},"y":{"field":"lo","type":"quantitative","scale":{"domain":[1300,19500]},"axis":{"values":[2000,4000,6000,8000,10000,12000,14000,16000,18000],"tickCount":20,"title":null,"format":",.0f","labelOverlap":false}},"y2":{"field":"hi"},"color":{"field":"g","type":"nominal"}}},
{"transform":[{"filter":"datum.p=='B'&&datum.m!=null"}],"mark":{"type":"bar","size":19,"filled":false,"strokeWidth":1.5},"encoding":{"x":{"field":"i","type":"quantitative"},"y":{"field":"q1","type":"quantitative"},"y2":{"field":"q3"},"color":{"field":"g","type":"nominal"}}},
{"transform":[{"filter":"datum.p=='B'&&datum.m!=null"}],"mark":{"type":"tick","orient":"horizontal","size":19,"thickness":2.5},"encoding":{"x":{"field":"i","type":"quantitative"},"y":{"field":"m","type":"quantitative"},"color":{"field":"g","type":"nominal"}}},
{"transform":[{"filter":"datum.p=='B'&&datum.v!=null"}],"mark":{"type":"circle","size":10,"opacity":1},"encoding":{"x":{"field":"i","type":"quantitative"},"y":{"field":"v","type":"quantitative"},"color":{"field":"g","type":"nominal"}}},
{"transform":[{"filter":"datum.p=='B'&&datum.s!=null"}],"mark":{"type":"rule","color":"#555","strokeWidth":1.2},"encoding":{"x":{"field":"ia","type":"quantitative"},"x2":{"field":"ib"},"y":{"field":"y","type":"quantitative"}}},
{"transform":[{"filter":"datum.p=='B'&&datum.s!=null"}],"mark":{"type":"text","fontSize":12,"fontWeight":"bold","baseline":"alphabetic","dy":4,"color":"#222"},"encoding":{"x":{"field":"im","type":"quantitative"},"y":{"field":"y","type":"quantitative"},"text":{"field":"s"}}}
]}]},
{"title":{"text":"C","fontSize":14,"offset":-11,"frame":"bounds"},"vconcat":[{"width":146,"height":101,"title":"CD5- cDC2","layer":[
{"transform":[{"filter":"datum.p=='C'&&datum.m!=null"}],"mark":{"type":"rule","strokeWidth":1},"encoding":{"x":{"field":"i","type":"quantitative","scale":{"domain":[-1.1,5.5]},"axis":{"values":[0,1,2,3,4,5],"tickCount":10,"labelExpr":"['HD','PG','RG','LGG','BM','NB'][datum.value]","title":null,"labelOverlap":false}},"y":{"field":"lo","type":"quantitative","scale":{"domain":[-200,18100]},"axis":{"values":[0,2000,4000,6000,8000,10000,12000,14000,16000],"tickCount":20,"title":null,"format":",.0f","labelOverlap":false}},"y2":{"field":"hi"},"color":{"field":"g","type":"nominal"}}},
{"transform":[{"filter":"datum.p=='C'&&datum.m!=null"}],"mark":{"type":"bar","size":19,"filled":false,"strokeWidth":1.5},"encoding":{"x":{"field":"i","type":"quantitative"},"y":{"field":"q1","type":"quantitative"},"y2":{"field":"q3"},"color":{"field":"g","type":"nominal"}}},
{"transform":[{"filter":"datum.p=='C'&&datum.m!=null"}],"mark":{"type":"tick","orient":"horizontal","size":19,"thickness":2.5},"encoding":{"x":{"field":"i","type":"quantitative"},"y":{"field":"m","type":"quantitative"},"color":{"field":"g","type":"nominal"}}},
{"transform":[{"filter":"datum.p=='C'&&datum.v!=null"}],"mark":{"type":"circle","size":10,"opacity":1},"encoding":{"x":{"field":"i","type":"quantitative"},"y":{"field":"v","type":"quantitative"},"color":{"field":"g","type":"nominal"}}}
]}]},
{"title":{"text":"D","fontSize":14,"offset":-11,"frame":"bounds"},"vconcat":[{"width":146,"height":101,"title":"DC3","layer":[
{"transform":[{"filter":"datum.p=='D'&&datum.m!=null"}],"mark":{"type":"rule","strokeWidth":1},"encoding":{"x":{"field":"i","type":"quantitative","scale":{"domain":[-0.5,5.5]},"axis":{"values":[0,1,2,3,4,5],"tickCount":10,"labelExpr":"['HD','PG','RG','LGG','BM','NB'][datum.value]","title":null,"labelOverlap":false}},"y":{"field":"lo","type":"quantitative","scale":{"domain":[300,17400]},"axis":{"values":[2000,4000,6000,8000,10000,12000,14000,16000],"tickCount":20,"title":null,"format":",.0f","labelOverlap":false}},"y2":{"field":"hi"},"color":{"field":"g","type":"nominal"}}},
{"transform":[{"filter":"datum.p=='D'&&datum.m!=null"}],"mark":{"type":"bar","size":19,"filled":false,"strokeWidth":1.5},"encoding":{"x":{"field":"i","type":"quantitative"},"y":{"field":"q1","type":"quantitative"},"y2":{"field":"q3"},"color":{"field":"g","type":"nominal"}}},
{"transform":[{"filter":"datum.p=='D'&&datum.m!=null"}],"mark":{"type":"tick","orient":"horizontal","size":19,"thickness":2.5},"encoding":{"x":{"field":"i","type":"quantitative"},"y":{"field":"m","type":"quantitative"},"color":{"field":"g","type":"nominal"}}},
{"transform":[{"filter":"datum.p=='D'&&datum.v!=null"}],"mark":{"type":"circle","size":10,"opacity":1},"encoding":{"x":{"field":"i","type":"quantitative"},"y":{"field":"v","type":"quantitative"},"color":{"field":"g","type":"nominal"}}},
{"transform":[{"filter":"datum.p=='D'&&datum.s!=null"}],"mark":{"type":"rule","color":"#555","strokeWidth":1.2},"encoding":{"x":{"field":"ia","type":"quantitative"},"x2":{"field":"ib"},"y":{"field":"y","type":"quantitative"}}},
{"transform":[{"filter":"datum.p=='D'&&datum.s!=null"}],"mark":{"type":"text","fontSize":12,"fontWeight":"bold","baseline":"alphabetic","dy":4,"color":"#222"},"encoding":{"x":{"field":"im","type":"quantitative"},"y":{"field":"y","type":"quantitative"},"text":{"field":"s"}}}
]}]}
]},
{"spacing":32,"vconcat":[
{"hconcat":[
{"title":{"text":"E","fontSize":14,"offset":-11,"frame":"bounds"},"vconcat":[{"width":146,"height":101,"title":"cDC1","layer":[
{"transform":[{"filter":"datum.p=='E'&&datum.m!=null"}],"mark":{"type":"rule","strokeWidth":1},"encoding":{"x":{"field":"i","type":"quantitative","scale":{"domain":[-0.5,5.5]},"axis":{"values":[0,1,2,3,4,5],"tickCount":10,"labelExpr":"['HD','PG','RG','LGG','BM','NB'][datum.value]","title":null,"labelOverlap":false}},"y":{"field":"lo","type":"quantitative","scale":{"domain":[-1250,6400]},"axis":{"values":[-1000,0,1000,2000,3000,4000,5000,6000],"tickCount":20,"title":"CD86 [MFI]","format":",.0f","labelOverlap":false}},"y2":{"field":"hi"},"color":{"field":"g","type":"nominal"}}},
{"transform":[{"filter":"datum.p=='E'&&datum.m!=null"}],"mark":{"type":"bar","size":19,"filled":false,"strokeWidth":1.5},"encoding":{"x":{"field":"i","type":"quantitative"},"y":{"field":"q1","type":"quantitative"},"y2":{"field":"q3"},"color":{"field":"g","type":"nominal"}}},
{"transform":[{"filter":"datum.p=='E'&&datum.m!=null"}],"mark":{"type":"tick","orient":"horizontal","size":19,"thickness":2.5},"encoding":{"x":{"field":"i","type":"quantitative"},"y":{"field":"m","type":"quantitative"},"color":{"field":"g","type":"nominal"}}},
{"transform":[{"filter":"datum.p=='E'&&datum.v!=null"}],"mark":{"type":"circle","size":10,"opacity":1},"encoding":{"x":{"field":"i","type":"quantitative"},"y":{"field":"v","type":"quantitative"},"color":{"field":"g","type":"nominal"}}},
{"transform":[{"filter":"datum.p=='E'&&datum.s!=null"}],"mark":{"type":"rule","color":"#555","strokeWidth":1.2},"encoding":{"x":{"field":"ia","type":"quantitative"},"x2":{"field":"ib"},"y":{"field":"y","type":"quantitative"}}},
{"transform":[{"filter":"datum.p=='E'&&datum.s!=null"}],"mark":{"type":"text","fontSize":12,"fontWeight":"bold","baseline":"alphabetic","dy":4,"color":"#222"},"encoding":{"x":{"field":"im","type":"quantitative"},"y":{"field":"y","type":"quantitative"},"text":{"field":"s"}}}
]}]},
{"title":{"text":"F","fontSize":14,"offset":-11,"frame":"bounds"},"vconcat":[{"width":146,"height":101,"title":"CD5+ cDC2","layer":[
{"transform":[{"filter":"datum.p=='F'&&datum.m!=null"}],"mark":{"type":"rule","strokeWidth":1},"encoding":{"x":{"field":"i","type":"quantitative","scale":{"domain":[-0.5,5.5]},"axis":{"values":[0,1,2,3,4,5],"tickCount":10,"labelExpr":"['HD','PG','RG','LGG','BM','NB'][datum.value]","title":null,"labelOverlap":false}},"y":{"field":"lo","type":"quantitative","scale":{"domain":[-380,3750]},"axis":{"values":[0,500,1000,1500,2000,2500,3000,3500],"tickCount":20,"title":null,"format":",.0f","labelOverlap":false}},"y2":{"field":"hi"},"color":{"field":"g","type":"nominal"}}},
{"transform":[{"filter":"datum.p=='F'&&datum.m!=null"}],"mark":{"type":"bar","size":19,"filled":false,"strokeWidth":1.5},"encoding":{"x":{"field":"i","type":"quantitative"},"y":{"field":"q1","type":"quantitative"},"y2":{"field":"q3"},"color":{"field":"g","type":"nominal"}}},
{"transform":[{"filter":"datum.p=='F'&&datum.m!=null"}],"mark":{"type":"tick","orient":"horizontal","size":19,"thickness":2.5},"encoding":{"x":{"field":"i","type":"quantitative"},"y":{"field":"m","type":"quantitative"},"color":{"field":"g","type":"nominal"}}},
{"transform":[{"filter":"datum.p=='F'&&datum.v!=null"}],"mark":{"type":"circle","size":10,"opacity":1},"encoding":{"x":{"field":"i","type":"quantitative"},"y":{"field":"v","type":"quantitative"},"color":{"field":"g","type":"nominal"}}},
{"transform":[{"filter":"datum.p=='F'&&datum.s!=null"}],"mark":{"type":"rule","color":"#555","strokeWidth":1.2},"encoding":{"x":{"field":"ia","type":"quantitative"},"x2":{"field":"ib"},"y":{"field":"y","type":"quantitative"}}},
{"transform":[{"filter":"datum.p=='F'&&datum.s!=null"}],"mark":{"type":"text","fontSize":12,"fontWeight":"bold","baseline":"alphabetic","dy":4,"color":"#222"},"encoding":{"x":{"field":"im","type":"quantitative"},"y":{"field":"y","type":"quantitative"},"text":{"field":"s"}}}
]}]},
{"title":{"text":"G","fontSize":14,"offset":-11,"frame":"bounds"},"vconcat":[{"width":146,"height":101,"title":"CD5- cDC2","layer":[
{"transform":[{"filter":"datum.p=='G'&&datum.m!=null"}],"mark":{"type":"rule","strokeWidth":1},"encoding":{"x":{"field":"i","type":"quantitative","scale":{"domain":[-0.5,5.5]},"axis":{"values":[0,1,2,3,4,5],"tickCount":10,"labelExpr":"['HD','PG','RG','LGG','BM','NB'][datum.value]","title":null,"labelOverlap":false}},"y":{"field":"lo","type":"quantitative","scale":{"domain":[-1050,2800]},"axis":{"values":[-1000,-500,0,500,1000,1500,2000,2500],"tickCount":20,"title":null,"format":",.0f","labelOverlap":false}},"y2":{"field":"hi"},"color":{"field":"g","type":"nominal"}}},
{"transform":[{"filter":"datum.p=='G'&&datum.m!=null"}],"mark":{"type":"bar","size":19,"filled":false,"strokeWidth":1.5},"encoding":{"x":{"field":"i","type":"quantitative"},"y":{"field":"q1","type":"quantitative"},"y2":{"field":"q3"},"color":{"field":"g","type":"nominal"}}},
{"transform":[{"filter":"datum.p=='G'&&datum.m!=null"}],"mark":{"type":"tick","orient":"horizontal","size":19,"thickness":2.5},"encoding":{"x":{"field":"i","type":"quantitative"},"y":{"field":"m","type":"quantitative"},"color":{"field":"g","type":"nominal"}}},
{"transform":[{"filter":"datum.p=='G'&&datum.v!=null"}],"mark":{"type":"circle","size":10,"opacity":1},"encoding":{"x":{"field":"i","type":"quantitative"},"y":{"field":"v","type":"quantitative"},"color":{"field":"g","type":"nominal"}}},
{"transform":[{"filter":"datum.p=='G'&&datum.s!=null"}],"mark":{"type":"rule","color":"#555","strokeWidth":1.2},"encoding":{"x":{"field":"ia","type":"quantitative"},"x2":{"field":"ib"},"y":{"field":"y","type":"quantitative"}}},
{"transform":[{"filter":"datum.p=='G'&&datum.s!=null"}],"mark":{"type":"text","fontSize":12,"fontWeight":"bold","baseline":"alphabetic","dy":4,"color":"#222"},"encoding":{"x":{"field":"im","type":"quantitative"},"y":{"field":"y","type":"quantitative"},"text":{"field":"s"}}}
]}]},
{"title":{"text":"H","fontSize":14,"offset":-11,"frame":"bounds"},"vconcat":[{"width":146,"height":101,"title":"DC3","layer":[
{"transform":[{"filter":"datum.p=='H'&&datum.m!=null"}],"mark":{"type":"rule","strokeWidth":1},"encoding":{"x":{"field":"i","type":"quantitative","scale":{"domain":[-0.5,5.5]},"axis":{"values":[0,1,2,3,4,5],"tickCount":10,"labelExpr":"['HD','PG','RG','LGG','BM','NB'][datum.value]","title":null,"labelOverlap":false}},"y":{"field":"lo","type":"quantitative","scale":{"domain":[-100,3350]},"axis":{"values":[0,500,1000,1500,2000,2500,3000],"tickCount":20,"title":null,"format":",.0f","labelOverlap":false}},"y2":{"field":"hi"},"color":{"field":"g","type":"nominal"}}},
{"transform":[{"filter":"datum.p=='H'&&datum.m!=null"}],"mark":{"type":"bar","size":19,"filled":false,"strokeWidth":1.5},"encoding":{"x":{"field":"i","type":"quantitative"},"y":{"field":"q1","type":"quantitative"},"y2":{"field":"q3"},"color":{"field":"g","type":"nominal"}}},
{"transform":[{"filter":"datum.p=='H'&&datum.m!=null"}],"mark":{"type":"tick","orient":"horizontal","size":19,"thickness":2.5},"encoding":{"x":{"field":"i","type":"quantitative"},"y":{"field":"m","type":"quantitative"},"color":{"field":"g","type":"nominal"}}},
{"transform":[{"filter":"datum.p=='H'&&datum.v!=null"}],"mark":{"type":"circle","size":10,"opacity":1},"encoding":{"x":{"field":"i","type":"quantitative"},"y":{"field":"v","type":"quantitative"},"color":{"field":"g","type":"nominal"}}},
{"transform":[{"filter":"datum.p=='H'&&datum.s!=null"}],"mark":{"type":"rule","color":"#555","strokeWidth":1.2},"encoding":{"x":{"field":"ia","type":"quantitative"},"x2":{"field":"ib"},"y":{"field":"y","type":"quantitative"}}},
{"transform":[{"filter":"datum.p=='H'&&datum.s!=null"}],"mark":{"type":"text","fontSize":12,"fontWeight":"bold","baseline":"alphabetic","dy":4,"color":"#222"},"encoding":{"x":{"field":"im","type":"quantitative"},"y":{"field":"y","type":"quantitative"},"text":{"field":"s"}}}
]}]}
]},
{"hconcat":[
{"title":{"text":"I","fontSize":14,"offset":-11,"frame":"bounds"},"vconcat":[{"width":146,"height":100,"title":"cDC1","layer":[
{"transform":[{"filter":"datum.p=='I'&&datum.m!=null"}],"mark":{"type":"rule","strokeWidth":1},"encoding":{"x":{"field":"i","type":"quantitative","scale":{"domain":[-0.5,5.5]},"axis":{"values":[0,1,2,3,4,5],"tickCount":10,"labelExpr":"['HD','PG','RG','LGG','BM','NB'][datum.value]","title":null,"labelOverlap":false}},"y":{"field":"lo","type":"quantitative","scale":{"domain":[-15500,42500]},"axis":{"values":[-15000,-10000,-5000,0,5000,10000,15000,20000,25000,30000,35000,40000],"tickCount":20,"title":"PD-L1 [MFI]","format":",.0f","labelOverlap":false}},"y2":{"field":"hi"},"color":{"field":"g","type":"nominal"}}},
{"transform":[{"filter":"datum.p=='I'&&datum.m!=null"}],"mark":{"type":"bar","size":19,"filled":false,"strokeWidth":1.5},"encoding":{"x":{"field":"i","type":"quantitative"},"y":{"field":"q1","type":"quantitative"},"y2":{"field":"q3"},"color":{"field":"g","type":"nominal"}}},
{"transform":[{"filter":"datum.p=='I'&&datum.m!=null"}],"mark":{"type":"tick","orient":"horizontal","size":19,"thickness":2.5},"encoding":{"x":{"field":"i","type":"quantitative"},"y":{"field":"m","type":"quantitative"},"color":{"field":"g","type":"nominal"}}},
{"transform":[{"filter":"datum.p=='I'&&datum.v!=null"}],"mark":{"type":"circle","size":10,"opacity":1},"encoding":{"x":{"field":"i","type":"quantitative"},"y":{"field":"v","type":"quantitative"},"color":{"field":"g","type":"nominal"}}},
{"transform":[{"filter":"datum.p=='I'&&datum.s!=null"}],"mark":{"type":"rule","color":"#555","strokeWidth":1.2},"encoding":{"x":{"field":"ia","type":"quantitative"},"x2":{"field":"ib"},"y":{"field":"y","type":"quantitative"}}},
{"transform":[{"filter":"datum.p=='I'&&datum.s!=null"}],"mark":{"type":"text","fontSize":12,"fontWeight":"bold","baseline":"alphabetic","dy":4,"color":"#222"},"encoding":{"x":{"field":"im","type":"quantitative"},"y":{"field":"y","type":"quantitative"},"text":{"field":"s"}}}
]}]},
{"title":{"text":"J","fontSize":14,"offset":-11,"frame":"bounds"},"vconcat":[{"width":146,"height":100,"title":"CD5+ cDC2","layer":[
{"transform":[{"filter":"datum.p=='J'&&datum.m!=null"}],"mark":{"type":"rule","strokeWidth":1},"encoding":{"x":{"field":"i","type":"quantitative","scale":{"domain":[-0.5,5.5]},"axis":{"values":[0,1,2,3,4,5],"tickCount":10,"labelExpr":"['HD','PG','RG','LGG','BM','NB'][datum.value]","title":null,"labelOverlap":false}},"y":{"field":"lo","type":"quantitative","scale":{"domain":[-1380,6550]},"axis":{"values":[-1000,0,1000,2000,3000,4000,5000,6000],"tickCount":20,"title":null,"format":",.0f","labelOverlap":false}},"y2":{"field":"hi"},"color":{"field":"g","type":"nominal"}}},
{"transform":[{"filter":"datum.p=='J'&&datum.m!=null"}],"mark":{"type":"bar","size":19,"filled":false,"strokeWidth":1.5},"encoding":{"x":{"field":"i","type":"quantitative"},"y":{"field":"q1","type":"quantitative"},"y2":{"field":"q3"},"color":{"field":"g","type":"nominal"}}},
{"transform":[{"filter":"datum.p=='J'&&datum.m!=null"}],"mark":{"type":"tick","orient":"horizontal","size":19,"thickness":2.5},"encoding":{"x":{"field":"i","type":"quantitative"},"y":{"field":"m","type":"quantitative"},"color":{"field":"g","type":"nominal"}}},
{"transform":[{"filter":"datum.p=='J'&&datum.v!=null"}],"mark":{"type":"circle","size":10,"opacity":1},"encoding":{"x":{"field":"i","type":"quantitative"},"y":{"field":"v","type":"quantitative"},"color":{"field":"g","type":"nominal"}}},
{"transform":[{"filter":"datum.p=='J'&&datum.s!=null"}],"mark":{"type":"rule","color":"#555","strokeWidth":1.2},"encoding":{"x":{"field":"ia","type":"quantitative"},"x2":{"field":"ib"},"y":{"field":"y","type":"quantitative"}}},
{"transform":[{"filter":"datum.p=='J'&&datum.s!=null"}],"mark":{"type":"text","fontSize":12,"fontWeight":"bold","baseline":"alphabetic","dy":4,"color":"#222"},"encoding":{"x":{"field":"im","type":"quantitative"},"y":{"field":"y","type":"quantitative"},"text":{"field":"s"}}}
]}]},
{"title":{"text":"K","fontSize":14,"offset":-11,"frame":"bounds"},"vconcat":[{"width":146,"height":100,"title":"CD5- cDC2","layer":[
{"transform":[{"filter":"datum.p=='K'&&datum.m!=null"}],"mark":{"type":"rule","strokeWidth":1},"encoding":{"x":{"field":"i","type":"quantitative","scale":{"domain":[-0.5,5.5]},"axis":{"values":[0,1,2,3,4,5],"tickCount":10,"labelExpr":"['HD','PG','RG','LGG','BM','NB'][datum.value]","title":null,"labelOverlap":false}},"y":{"field":"lo","type":"quantitative","scale":{"domain":[-950,5500]},"axis":{"values":[0,1000,2000,3000,4000,5000],"tickCount":20,"title":null,"format":",.0f","labelOverlap":false}},"y2":{"field":"hi"},"color":{"field":"g","type":"nominal"}}},
{"transform":[{"filter":"datum.p=='K'&&datum.m!=null"}],"mark":{"type":"bar","size":19,"filled":false,"strokeWidth":1.5},"encoding":{"x":{"field":"i","type":"quantitative"},"y":{"field":"q1","type":"quantitative"},"y2":{"field":"q3"},"color":{"field":"g","type":"nominal"}}},
{"transform":[{"filter":"datum.p=='K'&&datum.m!=null"}],"mark":{"type":"tick","orient":"horizontal","size":19,"thickness":2.5},"encoding":{"x":{"field":"i","type":"quantitative"},"y":{"field":"m","type":"quantitative"},"color":{"field":"g","type":"nominal"}}},
{"transform":[{"filter":"datum.p=='K'&&datum.v!=null"}],"mark":{"type":"circle","size":10,"opacity":1},"encoding":{"x":{"field":"i","type":"quantitative"},"y":{"field":"v","type":"quantitative"},"color":{"field":"g","type":"nominal"}}},
{"transform":[{"filter":"datum.p=='K'&&datum.s!=null"}],"mark":{"type":"rule","color":"#555","strokeWidth":1.2},"encoding":{"x":{"field":"ia","type":"quantitative"},"x2":{"field":"ib"},"y":{"field":"y","type":"quantitative"}}},
{"transform":[{"filter":"datum.p=='K'&&datum.s!=null"}],"mark":{"type":"text","fontSize":12,"fontWeight":"bold","baseline":"alphabetic","dy":4,"color":"#222"},"encoding":{"x":{"field":"im","type":"quantitative"},"y":{"field":"y","type":"quantitative"},"text":{"field":"s"}}}
]}]},
{"title":{"text":"L","fontSize":14,"offset":-11,"frame":"bounds"},"vconcat":[{"width":146,"height":100,"title":"DC3","layer":[
{"transform":[{"filter":"datum.p=='L'&&datum.m!=null"}],"mark":{"type":"rule","strokeWidth":1},"encoding":{"x":{"field":"i","type":"quantitative","scale":{"domain":[-0.5,5.5]},"axis":{"values":[0,1,2,3,4,5],"tickCount":10,"labelExpr":"['HD','PG','RG','LGG','BM','NB'][datum.value]","title":null,"labelOverlap":false}},"y":{"field":"lo","type":"quantitative","scale":{"domain":[-900,6950]},"axis":{"values":[0,1000,2000,3000,4000,5000,6000],"tickCount":20,"title":null,"format":",.0f","labelOverlap":false}},"y2":{"field":"hi"},"color":{"field":"g","type":"nominal"}}},
{"transform":[{"filter":"datum.p=='L'&&datum.m!=null"}],"mark":{"type":"bar","size":19,"filled":false,"strokeWidth":1.5},"encoding":{"x":{"field":"i","type":"quantitative"},"y":{"field":"q1","type":"quantitative"},"y2":{"field":"q3"},"color":{"field":"g","type":"nominal"}}},
{"transform":[{"filter":"datum.p=='L'&&datum.m!=null"}],"mark":{"type":"tick","orient":"horizontal","size":19,"thickness":2.5},"encoding":{"x":{"field":"i","type":"quantitative"},"y":{"field":"m","type":"quantitative"},"color":{"field":"g","type":"nominal"}}},
{"transform":[{"filter":"datum.p=='L'&&datum.v!=null"}],"mark":{"type":"circle","size":10,"opacity":1},"encoding":{"x":{"field":"i","type":"quantitative"},"y":{"field":"v","type":"quantitative"},"color":{"field":"g","type":"nominal"}}},
{"transform":[{"filter":"datum.p=='L'&&datum.s!=null"}],"mark":{"type":"rule","color":"#555","strokeWidth":1.2},"encoding":{"x":{"field":"ia","type":"quantitative"},"x2":{"field":"ib"},"y":{"field":"y","type":"quantitative"}}},
{"transform":[{"filter":"datum.p=='L'&&datum.s!=null"}],"mark":{"type":"text","fontSize":12,"fontWeight":"bold","baseline":"alphabetic","dy":4,"color":"#222"},"encoding":{"x":{"field":"im","type":"quantitative"},"y":{"field":"y","type":"quantitative"},"text":{"field":"s"}}}
]}]}
]}
]}
],
"config":{
"font":"Liberation Sans",
"view":{"stroke":null},
"concat":{"spacing":8},
"range":{"category":["#ff0000","#000000","#f2b200","#800080","#2ca02c","#2f3bf0"]},
"axis":{"grid":false,"domainColor":"#555","domainWidth":1.5,"tickColor":"#555","tickSize":3,"labelFont":"Liberation Sans Narrow, Liberation Sans","labelFontWeight":"bold","labelFontSize":7,"labelColor":"#222","titleFontWeight":"bold","titleFontSize":8,"titleColor":"#222","labelPadding":1,"titlePadding":3},
"axisX":{"labelFontSize":8,"tickSize":2,"labelPadding":1},
"title":{"fontSize":9,"fontWeight":"bold","anchor":"start","frame":"group","offset":3,"color":"#111"},
"legend":{"columns":3,"gridAlign":"each","titleOrient":"left","titleFontSize":12,"titleFont":"Liberation Sans Narrow, Liberation Sans","labelFont":"Liberation Sans Narrow, Liberation Sans","labelFontSize":10,"labelFontWeight":"bold","titleFontWeight":"bold","labelColor":"#111","titleColor":"#111","symbolType":"M-0.12,-1.3H0.12V1.3H-0.12Z M-0.45,-0.6H0.45V0.6H-0.45Z","symbolSize":40,"symbolStrokeWidth":0,"rowPadding":1,"columnPadding":6,"titlePadding":10,"labelOffset":1}
}
}
